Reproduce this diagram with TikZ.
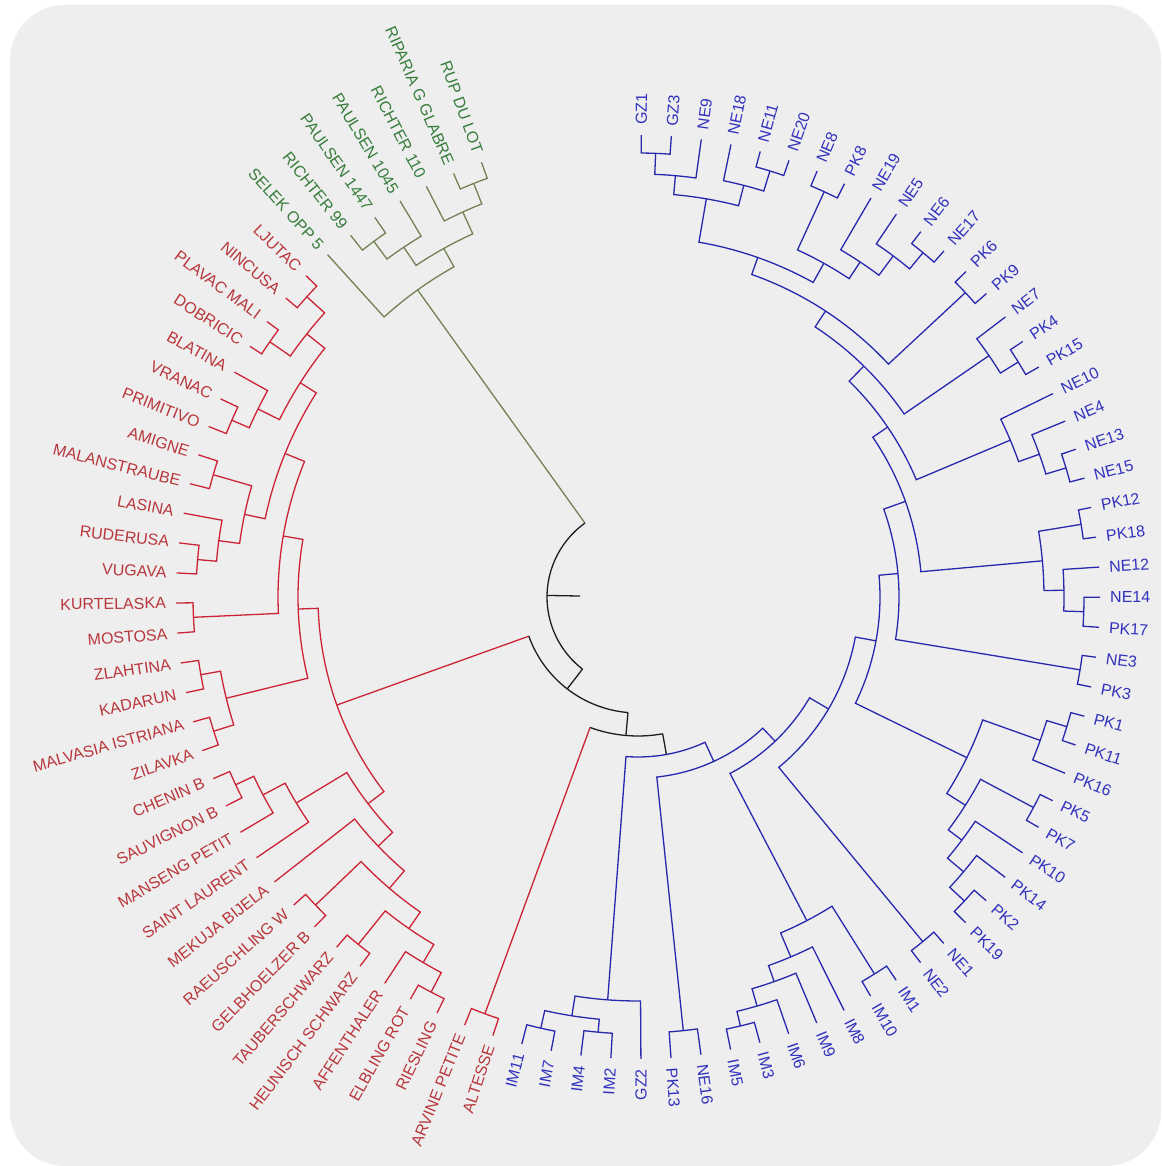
\documentclass[tikz,border=0pt]{standalone}
\usepackage{fontspec}
\setmainfont{Liberation Sans}
\definecolor{lred}{RGB}{205,35,55}
\definecolor{tred}{RGB}{185,55,60}
\definecolor{lblue}{RGB}{40,40,175}
\definecolor{tblue}{RGB}{50,50,190}
\definecolor{lgrn}{RGB}{115,130,85}
\definecolor{tgrn}{RGB}{55,125,60}
\definecolor{lblk}{RGB}{30,30,30}
\definecolor{bgc}{RGB}{238,238,238}
\newcommand\setang[3]{\expandafter\xdef\csname ang#1\endcsname{#2}\expandafter\xdef\csname rad#1\endcsname{#3}}
\newcommand\getang[1]{\csname ang#1\endcsname}
\newcommand\treejoin[5]{%
  \edef\ja{\getang{#2}}\edef\jb{\getang{#3}}%
  \pgfmathsetmacro\jm{(\ja+\jb)/2}%
  \setang{#1}{\jm}{#4}%
  \draw[#5] (#2) -- (\ja:#4pt) arc[start angle=\ja, end angle=\jb, radius=#4pt] -- (#3);%
  \coordinate (#1) at (\jm:#4pt);%
}
\newcommand\topjoin[6]{%
  \edef\ja{\getang{#2}}\edef\jb{\getang{#3}}%
  \pgfmathsetmacro\jm{(\ja+\jb)/2}%
  \setang{#1}{\jm}{#4}%
  \draw[#5] (#2) -- (\ja:#4pt);%
  \draw[blkln] (\ja:#4pt) arc[start angle=\ja, end angle=\jb, radius=#4pt];%
  \draw[#6] (\jb:#4pt) -- (#3);%
  \coordinate (#1) at (\jm:#4pt);%
}
\tikzset{
  redln/.style={draw=lred, line width=1.3pt},
  bluln/.style={draw=lblue, line width=1.3pt},
  grnln/.style={draw=lgrn, line width=1.3pt},
  blkln/.style={draw=lblk, line width=1.3pt},
  leaflbl/.style={inner sep=0pt, font=\fontsize{16}{16}\selectfont},
}
\begin{document}
\begin{tikzpicture}
\useasboundingbox (0pt,0pt) rectangle (1161pt,-1166pt);
\fill[white] (0pt,0pt) rectangle (1161pt,-1166pt);
\fill[bgc, rounded corners=55pt] (10pt,-5pt) rectangle (1161pt,-1166pt);
\begin{scope}[shift={(638pt,-597pt)}]
\foreach \i in {0,...,91}{\pgfmathsetmacro\a{109.8+3.734*\i}\setang{l\i}{\a}{462}\coordinate (l\i) at (\a:462pt);}
% labels
\foreach \i/\t in {0/RUP DU LOT,1/RIPARIA G GLABRE,2/RICHTER 110,3/PAULSEN 1045,4/PAULSEN 1447,5/RICHTER 99,6/SELEK OPP 5}
  {\pgfmathsetmacro\a{109.8+3.734*\i}\node[leaflbl,text=tgrn,anchor=east,rotate=\a-180] (t\i) at (\a:472pt) {\t};}
\foreach \i/\t in {7/LJUTAC,8/NINCUSA,9/PLAVAC MALI,10/DOBRICIC,11/BLATINA,12/VRANAC,13/PRIMITIVO,14/AMIGNE,15/MALANSTRAUBE,16/LASINA,17/RUDERUSA,18/VUGAVA,19/KURTELASKA,20/MOSTOSA,21/ZLAHTINA,22/KADARUN,23/MALVASIA ISTRIANA,24/ZILAVKA,25/CHENIN B,26/SAUVIGNON B,27/MANSENG PETIT,28/SAINT LAURENT,29/MEKUJA BIJELA,30/RAEUSCHLING W,31/GELBHOELZER B,32/TAUBERSCHWARZ,33/HEUNISCH SCHWARZ,34/AFFENTHALER,35/ELBLING ROT,36/RIESLING,37/ARVINE PETITE,38/ALTESSE}
  {\pgfmathsetmacro\a{109.8+3.734*\i}\node[leaflbl,text=tred,anchor=east,rotate=\a-180] (t\i) at (\a:472pt) {\t};}
\foreach \i/\t in {39/IM11,40/IM7,41/IM4,42/IM2,43/GZ2}
  {\pgfmathsetmacro\a{109.8+3.734*\i}\node[leaflbl,text=tblue,anchor=east,rotate=\a-180] (t\i) at (\a:472pt) {\t};}
\foreach \i/\t in {44/PK13,45/NE16,46/IM5,47/IM3,48/IM6,49/IM9,50/IM8,51/IM10,52/IM1,53/NE2,54/NE1,55/PK19,56/PK2,57/PK14,58/PK10,59/PK7,60/PK5,61/PK16,62/PK11,63/PK1,64/PK3,65/NE3,66/PK17,67/NE14,68/NE12,69/PK18,70/PK12,71/NE15,72/NE13,73/NE4,74/NE10,75/PK15,76/PK4,77/NE7,78/PK9,79/PK6,80/NE17,81/NE6,82/NE5,83/NE19,84/PK8,85/NE8,86/NE20,87/NE11,88/NE18,89/NE9,90/GZ3,91/GZ1}
  {\pgfmathsetmacro\a{109.8+3.734*\i}\node[leaflbl,text=tblue,anchor=west,rotate=\a] (t\i) at (\a:472pt) {\t};}
% green clade
\treejoin{g01}{l0}{l1}{445}{grnln}
\treejoin{g012}{g01}{l2}{423}{grnln}
\treejoin{g45}{l4}{l5}{443}{grnln}
\treejoin{g345}{l3}{g45}{421}{grnln}
\treejoin{g05}{g012}{g345}{399}{grnln}
\treejoin{g06}{g05}{l6}{378}{grnln}
% red clade
\treejoin{r78}{l7}{l8}{447}{redln}
\treejoin{r910}{l9}{l10}{448}{redln}
\treejoin{r7x10}{r78}{r910}{423}{redln}
\treejoin{r1213}{l12}{l13}{443}{redln}
\treejoin{r11x13}{l11}{r1213}{424}{redln}
\treejoin{r7x13}{r7x10}{r11x13}{400}{redln}
\treejoin{r1415}{l14}{l15}{442}{redln}
\treejoin{r1718}{l17}{l18}{442}{redln}
\treejoin{r16x18}{l16}{r1718}{423}{redln}
\treejoin{r14x18}{r1415}{r16x18}{402}{redln}
\treejoin{r7x18}{r7x13}{r14x18}{381}{redln}
\treejoin{r1920}{l19}{l20}{445}{redln}
\treejoin{rQ}{r7x18}{r1920}{360}{redln}
\treejoin{r2122}{l21}{l22}{444}{redln}
\treejoin{r2324}{l23}{l24}{445}{redln}
\treejoin{r21x24}{r2122}{r2324}{424}{redln}
\treejoin{rR}{rQ}{r21x24}{340}{redln}
\treejoin{r2526}{l25}{l26}{444}{redln}
\treejoin{r25x27}{r2526}{l27}{424}{redln}
\treejoin{r25x28}{r25x27}{l28}{399}{redln}
\treejoin{r3031}{l30}{l31}{446}{redln}
\treejoin{r3233}{l32}{l33}{446}{redln}
\treejoin{r3536}{l35}{l36}{446}{redln}
\treejoin{r34x36}{l34}{r3536}{424}{redln}
\treejoin{rV}{r3233}{r34x36}{403}{redln}
\treejoin{rU}{r3031}{rV}{383}{redln}
\treejoin{rT}{l29}{rU}{360}{redln}
\treejoin{rS}{r25x28}{rT}{340}{redln}
\treejoin{rMain}{rR}{rS}{320}{redln}
\treejoin{r3738}{l37}{l38}{444}{redln}
% blue clade
\treejoin{b3940}{l39}{l40}{442}{bluln}
\treejoin{b4142}{l41}{l42}{437}{bluln}
\treejoin{b39x42}{b3940}{b4142}{424}{bluln}
\treejoin{b39x43}{b39x42}{l43}{404}{bluln}
\treejoin{b4445}{l44}{l45}{436}{bluln}
\treejoin{b4647}{l46}{l47}{441}{bluln}
\treejoin{b46x48}{b4647}{l48}{426}{bluln}
\treejoin{b46x49}{b46x48}{l49}{408}{bluln}
\treejoin{b46x50}{b46x49}{l50}{391}{bluln}
\treejoin{b5152}{l51}{l52}{445}{bluln}
\treejoin{b46x52}{b46x50}{b5152}{365}{bluln}
\treejoin{b5354}{l53}{l54}{447}{bluln}
\treejoin{b5556}{l55}{l56}{446}{bluln}
\treejoin{b55x57}{b5556}{l57}{426}{bluln}
\treejoin{b55x58}{b55x57}{l58}{405}{bluln}
\treejoin{b5960}{l59}{l60}{448}{bluln}
\treejoin{b55x60}{b55x58}{b5960}{388}{bluln}
\treejoin{b6263}{l62}{l63}{448}{bluln}
\treejoin{b61x63}{l61}{b6263}{427}{bluln}
\treejoin{b55x63}{b55x60}{b61x63}{366}{bluln}
\treejoin{b6465}{l64}{l65}{448}{bluln}
\treejoin{b6667}{l66}{l67}{446}{bluln}
\treejoin{b66x68}{b6667}{l68}{426}{bluln}
\treejoin{b6970}{l69}{l70}{449}{bluln}
\treejoin{b66x70}{b66x68}{b6970}{406}{bluln}
\treejoin{b7172}{l71}{l72}{447}{bluln}
\treejoin{b71x73}{b7172}{l73}{426}{bluln}
\treejoin{b71x74}{b71x73}{l74}{404}{bluln}
\treejoin{b7576}{l75}{l76}{447}{bluln}
\treejoin{b75x77}{b7576}{l77}{426}{bluln}
\treejoin{b7879}{l78}{l79}{447}{bluln}
\treejoin{b8081}{l80}{l81}{447}{bluln}
\treejoin{b80x82}{b8081}{l82}{426}{bluln}
\treejoin{b80x83}{b80x82}{l83}{402}{bluln}
\treejoin{b8485}{l84}{l85}{446}{bluln}
\treejoin{b80x85}{b80x83}{b8485}{382}{bluln}
\treejoin{b8687}{l86}{l87}{446}{bluln}
\treejoin{b86x88}{b8687}{l88}{425}{bluln}
\treejoin{b9091}{l90}{l91}{444}{bluln}
\treejoin{b89x91}{l89}{b9091}{423}{bluln}
\treejoin{b86x91}{b86x88}{b89x91}{404}{bluln}
\treejoin{bX}{b80x85}{b86x91}{360}{bluln}
\treejoin{bIX}{b7879}{bX}{342}{bluln}
\treejoin{bVIII}{b75x77}{bIX}{323}{bluln}
\treejoin{bVII}{b71x74}{bVIII}{302}{bluln}
\treejoin{bVI}{b66x70}{bVII}{284}{bluln}
\treejoin{bV}{b6465}{bVI}{261}{bluln}
\treejoin{bIV}{b55x63}{bV}{242}{bluln}
\treejoin{bIII}{b5354}{bIV}{221}{bluln}
\treejoin{bII}{b46x52}{bIII}{199}{bluln}
\treejoin{bI}{b4445}{bII}{181}{bluln}
\treejoin{b0}{b39x43}{bI}{160}{bluln}
% top of tree
\topjoin{n3}{r3738}{b0}{139}{redln}{blkln}
\topjoin{n2}{rMain}{n3}{116}{redln}{blkln}
\topjoin{root}{g06}{n2}{91}{grnln}{blkln}
\coordinate (stub) at (\getang{root}:58pt);
\draw[blkln] (root) -- (stub);
\end{scope}
\end{tikzpicture}
\end{document}
